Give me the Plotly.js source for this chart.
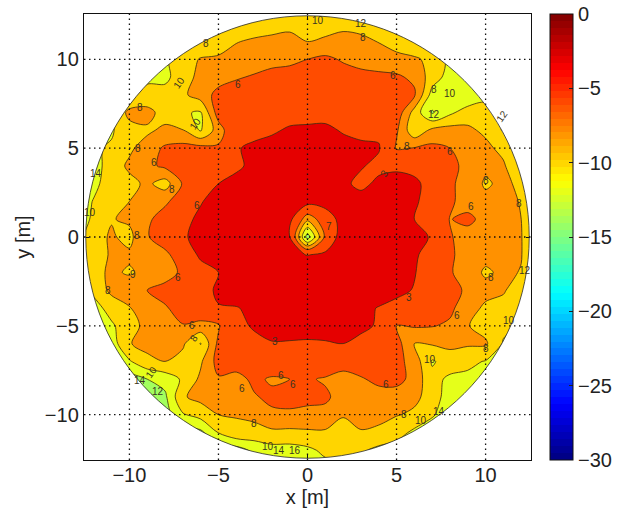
<!DOCTYPE html>
<html><head><meta charset="utf-8">
<script src="https://cdn.plot.ly/plotly-3.0.1.min.js"></script>
<style>html,body{margin:0;padding:0;background:#fff}</style></head>
<body><div id="plot" style="width:617px;height:513px"></div>
<script>
const gridX=[-13,-12,-11,-10,-9,-8,-7,-6,-5,-4,-3,-2,-1,0,1,2,3,4,5,6,7,8,9,10,11,12,13];
const gridY=[13,12,11,10,9,8,7,6,5,4,3,2,1,0,-1,-2,-3,-4,-5,-6,-7,-8,-9,-10,-11,-12,-13];
const depth=[
[-10.2,-10.2,-10.2,-10.2,-10.2,-10.2,-10.2,-10.2,-10.2,-10.2,-10.2,-10.2,-10.2,-10.3,-10.6,-10.6,-10.6,-10.2,-10.2,-10.2,-10.2,-10.2,-10.2,-10.2,-10.2,-10.2,-10.2],
[-10.2,-10.2,-10.2,-10.2,-10.2,-10.2,-10.2,-10.2,-10.2,-10.1,-9.2,-9,-8.7,-9.2,-9.3,-8.7,-9.2,-10.1,-10.2,-10.2,-10.2,-10.2,-10.2,-10.2,-10.2,-10.2,-10.2],
[-10.2,-10.2,-10.2,-10.2,-10.2,-10.2,-10.2,-10.1,-9.3,-8.1,-7.7,-7.4,-7.2,-8,-7.5,-7.1,-7.2,-8.1,-9,-10.1,-10.2,-10.2,-10.2,-10.2,-10.2,-10.2,-10.2],
[-10.2,-10.2,-10.2,-10.2,-10.2,-10.2,-9.3,-7.8,-7.6,-7.2,-7,-6.5,-6.4,-6,-5.6,-6.2,-6.6,-6.9,-7.3,-7.6,-8.7,-10.5,-10.5,-10.2,-10.2,-10.2,-10.2],
[-10.2,-10.2,-10.2,-10.2,-10.2,-10.4,-9.1,-7.3,-6.8,-6.2,-5.8,-5.5,-5.3,-5.2,-5,-5.2,-5.5,-5.6,-5.7,-6.4,-9,-10.8,-10.5,-10.2,-10.2,-10.2,-10.2],
[-10.2,-10.2,-10.2,-10.2,-9.7,-9.4,-8.4,-7,-5.4,-5,-4.8,-4.6,-4.5,-4.5,-4.3,-4.3,-4.5,-4.7,-4.9,-5.7,-10.8,-11,-11.8,-10.5,-10.2,-10.2,-10.2],
[-10.2,-10.2,-10.2,-7.4,-7.2,-9,-9.8,-10.2,-5,-4.5,-4.3,-4,-3.9,-3.8,-3.8,-3.9,-4,-4.2,-4.7,-8.8,-12.2,-10.4,-9,-9.3,-10.2,-10.2,-10.2],
[-10.2,-10.2,-10.2,-8.8,-8.4,-7.5,-7.9,-10.2,-7,-4,-3.8,-3.3,-2.7,-2.6,-2.5,-3.2,-3.5,-3.5,-5.7,-9.5,-7.5,-7.2,-7.6,-8.4,-10.2,-10.2,-10.2],
[-11,-10.2,-9.8,-8.4,-7,-5.7,-5.3,-5.3,-5.7,-3.2,-2.5,-2.2,-2,-2,-2,-2.2,-2.6,-2.8,-6.3,-5.9,-5.5,-6,-7,-7.5,-8.6,-10.2,-10.2],
[-11,-10.8,-9.1,-7.6,-6.5,-5.6,-5,-4.5,-4,-3.3,-2.6,-2,-2,-2,-2,-2.2,-2.8,-3.6,-3.3,-3.6,-4.2,-5.6,-6.4,-7.5,-7.7,-10.2,-10.2],
[-11,-10.4,-9.2,-8.6,-7.6,-8.9,-5.8,-3.8,-3,-2.5,-2,-2,-2,-2,-2,-2.5,-3.6,-2.5,-2.4,-2.6,-3.7,-5.7,-6.7,-8.3,-7.5,-8.5,-10.5],
[-11,-9.9,-8.9,-8,-7.3,-6.4,-4.8,-3.1,-2.4,-2,-2,-2,-2,-2,-2,-2,-2,-2,-2,-2.8,-3.6,-5.6,-7,-7.4,-7.5,-8.1,-10.5],
[-11,-9.7,-8.1,-7.7,-6.4,-5,-3.4,-2.7,-2.2,-2,-2,-2,-2.3,-7.5,-4.5,-2,-2,-2,-2,-3,-3.8,-6.1,-5.4,-6.8,-7.5,-8,-10.5],
[-11,-8.6,-7.8,-8.5,-6.2,-4.6,-3.2,-2.5,-2,-2,-2,-2,-2.9,-13,-5.5,-1.5,-2,-2,-2,-2.3,-3.2,-5.8,-7,-7.3,-7.4,-7.9,-10.5],
[-11,-8.4,-7.9,-7.7,-7.2,-6.6,-4.5,-2.6,-2.3,-2,-2,-2,-2,-3.1,-2.5,-2,-2,-2,-2,-2.8,-3.6,-5.7,-6.8,-7.4,-7.5,-7.9,-10.5],
[-11,-8.5,-7.7,-8.2,-7.5,-6.9,-5.6,-3.9,-3,-2.3,-2,-2,-2,-2,-2,-2,-2,-2,-2.3,-2.9,-4,-5.8,-7,-8.3,-7.6,-8.1,-10.5],
[-11,-9.5,-7.5,-6.9,-6,-5.3,-4.7,-3.7,-2.7,-2,-2,-2,-2,-2,-2,-2,-2,-2,-2.6,-3.1,-4,-5,-6.5,-7.3,-7.7,-9.7,-10.5],
[-11,-10.8,-9.2,-8.1,-7.2,-6.2,-5.2,-4,-3.1,-3.1,-2.6,-2,-2,-2,-2,-2,-2.5,-3.1,-3.5,-4.3,-4.8,-5.6,-7.1,-8.4,-9,-10.2,-10.5],
[-11,-11,-10.3,-8.8,-7.4,-7.1,-6.1,-6.8,-6.3,-3.5,-2.8,-2.4,-2,-2,-2,-2.2,-2.6,-3.2,-6,-5.8,-5.9,-6.3,-7.9,-8.8,-9.5,-10.2,-10.5],
[-11,-11,-11,-8.1,-7.4,-7.3,-7.7,-10.1,-5.5,-4.6,-3.5,-3.1,-3.2,-3.3,-3.2,-3,-3.5,-4.2,-5.2,-8,-7.8,-7.4,-7.7,-7.7,-10.2,-10.5,-10.5],
[-12,-12,-12,-10.2,-8.5,-8,-8.7,-8.3,-5.2,-4.8,-4.4,-4.2,-4.2,-4.4,-4.5,-4.8,-4.8,-4.7,-5.3,-6.9,-10.2,-9.2,-9.6,-10.1,-10.5,-10.5,-10.5],
[-13,-13,-13,-13,-12,-11.2,-9.7,-7.6,-6.2,-6.8,-5.5,-6.3,-6,-5.8,-6.2,-7,-6.2,-5.5,-5.3,-6.7,-9.5,-10.3,-10.4,-11.5,-11.5,-11.5,-11.5],
[-13,-13,-13,-13,-13,-12.4,-8.2,-7.4,-7.3,-7,-6.2,-5.5,-5.6,-5.9,-5.7,-6.7,-6.4,-6.8,-7,-7.6,-8.7,-11.3,-11.5,-11.5,-11.5,-11.5,-11.5],
[-13,-13,-13,-13,-13,-13,-10.2,-9.2,-8,-7.9,-7.5,-6.4,-6.2,-6.1,-6.5,-7.8,-7,-7.3,-7.9,-8.3,-9.6,-12,-12,-12,-12,-12,-12],
[-13,-13,-13,-13,-13,-13,-13,-12.5,-9.9,-8.4,-8.7,-8.4,-8.5,-8.4,-8.3,-9,-8.2,-8.5,-9.1,-10.5,-12,-12,-12,-12,-12,-12,-12],
[-13,-13,-13,-13,-13,-13,-13,-13,-13,-13,-11.5,-10.8,-10.8,-10.4,-9.6,-9.3,-9.7,-10.5,-11,-11,-11,-11,-11,-11,-11,-11,-11],
[-13,-13,-13,-13,-13,-13,-13,-13,-13,-13,-13,-12,-12,-11.5,-10.6,-10.6,-10.6,-11,-11,-11,-11,-11,-11,-11,-11,-11,-11]
];
const levels=[-14,-12,-10,-8,-6,-3];
const tickVals=[-10,-5,0,5,10];
const tickText=['\u221210','\u22125','0','5','10'];
const barTicks=[-30,-25,-20,-15,-10,-5,0];
const barText=['\u221230','\u221225','\u221220','\u221215','\u221210','\u22125','0'];
const discRadius=12.45;
const labelX=[-5.7,-3.9,-7.2,-9.4,-6.3,-9.5,-8.6,-7.6,-6.2,-11.9,-12.2,-9.6,0.6,3,3.1,4.8,7.1,8,7.1,5.6,8,4.3,10,9.2,11.9,10.9,1.2,-11.2,-9.8,-7.3,-6.5,-6.4,-8.8,-9.4,-8.4,-3.7,-3,-1.5,-0.8,-1.8,-2.2,-1.6,-0.7,6.9,5.4,4.4,5.7,8.4,10,11.3,10.3,6.4,7.4,12.2];
const labelY=[10.9,8.6,8.7,7.3,6.4,5,4.2,2.7,1.8,3.6,1.4,0.1,12.2,12,11.2,9.1,8.3,8.1,6.9,5.1,4.8,3.6,3.2,1.7,1.9,6.8,0.6,-3,-2.1,-2.3,-5,-5.7,-7.6,-8.1,-8.7,-8.5,-10.5,-7.8,-8.3,-5.9,-11.8,-12,-12,-6.9,-10,-8.3,-3.4,-4.4,-6.3,-4.7,-2.3,-10.3,-9.8,-1.9];
const labelText=['8','6','10','8','10','8','6','8','6','14','10','8','10','12','8','6','8','10','12','8','6','3','8','6','8','12','7','8','9','6','6','8','10','14','12','6','8','6','6','3','10','14','16','10','8','6','3','6','8','10','8','10','14','12'];
const labelAngle=labelText.map((t,i)=>[2,4,21,25,31,32].includes(i)?-55:0);

function jet(t){
  const c=v=>Math.round(255*Math.max(0,Math.min(1,1.5-Math.abs(4*t-v))));
  return 'rgb('+c(3)+','+c(2)+','+c(1)+')';
}
const steps=64, stepped=[];
for(let i=0;i<steps;i++){const col=jet((i+0.5)/steps);stepped.push([i/steps,col],[(i+1)/steps,col]);}

const traces=levels.map(L=>({
  type:'contour',x:gridX,y:gridY,z:depth,hoverinfo:'skip',
  contours:{type:'constraint',operation:'<',value:L,coloring:'fill',showlines:true},
  fillcolor:jet((L+30)/30),
  line:{color:'#3a2a10',width:0.8,smoothing:0.9},
  showscale:false,showlegend:false
}));
traces.push({type:'scatter',mode:'markers',x:[null],y:[null],hoverinfo:'skip',showlegend:false,
  marker:{color:[-30],cmin:-30,cmax:0,colorscale:stepped,showscale:true,
    colorbar:{x:1.0425,xanchor:'left',xpad:0,y:0,yanchor:'bottom',ypad:0,len:1,lenmode:'fraction',
      thickness:23,thicknessmode:'pixels',outlinecolor:'#111',outlinewidth:1,
      tickmode:'array',tickvals:barTicks,ticktext:barText,ticks:'inside',ticklen:4,tickcolor:'#222',
      tickfont:{family:'Liberation Sans',size:20,color:'#222'}}}});

const k=0.5523*discRadius,r=discRadius;
const maskPath='M-14,-14 L14,-14 L14,14 L-14,14 Z M'+r+',0 C'+r+','+k+' '+k+','+r+' 0,'+r+' C'+(-k)+','+r+' '+(-r)+','+k+' '+(-r)+',0 C'+(-r)+','+(-k)+' '+(-k)+','+(-r)+' 0,'+(-r)+' C'+k+','+(-r)+' '+r+','+(-k)+' '+r+',0 Z';
const shapes=[{type:'path',path:maskPath,xref:'x',yref:'y',fillcolor:'#fff',line:{color:'#2a2a2a',width:0.8},layer:'above'}];
tickVals.forEach(v=>{
  shapes.push({type:'line',xref:'x',yref:'paper',x0:v,x1:v,y0:0,y1:1,line:{color:'#111',width:1.3,dash:'1.5px,3.5px'},layer:'above'});
  shapes.push({type:'line',xref:'paper',yref:'y',x0:0,x1:1,y0:v,y1:v,line:{color:'#111',width:1.3,dash:'1.5px,3.5px'},layer:'above'});
});
barTicks.slice(1,-1).forEach(v=>{
  shapes.push({type:'line',xref:'paper',yref:'paper',x0:1.0425,x1:1.0515,y0:(v+30)/30,y1:(v+30)/30,line:{color:'#222',width:1},layer:'above'});
});
const annotations=labelText.map((t,i)=>({x:labelX[i],y:labelY[i],xref:'x',yref:'y',text:t,showarrow:false,textangle:labelAngle[i],
  font:{family:'Liberation Sans',size:10,color:'#3a3320'},xanchor:'center',yanchor:'middle'}));

const axis={range:[-12.55,12.55],tickmode:'array',tickvals:tickVals,ticktext:tickText,ticks:'inside',ticklen:5,tickcolor:'#111',
  showline:true,linecolor:'#111',linewidth:1.2,mirror:'ticks',showgrid:false,zeroline:false,
  tickfont:{family:'Liberation Sans',size:20,color:'#222'},automargin:false};
const layout={width:617,height:513,margin:{l:83.5,r:86,t:13.5,b:53,pad:0,autoexpand:false},paper_bgcolor:'#fff',plot_bgcolor:'#fff',
  showlegend:false,shapes,annotations,
  xaxis:Object.assign({},axis,{ticklabelstandoff:-3,title:{text:'x [m]',standoff:2,font:{family:'Liberation Sans',size:20,color:'#222'}}}),
  yaxis:Object.assign({},axis,{title:{text:'y [m]',standoff:8,font:{family:'Liberation Sans',size:20,color:'#222'}}})};
Plotly.newPlot('plot',traces,layout,{displayModeBar:false,staticPlot:true});
</script></body></html>
